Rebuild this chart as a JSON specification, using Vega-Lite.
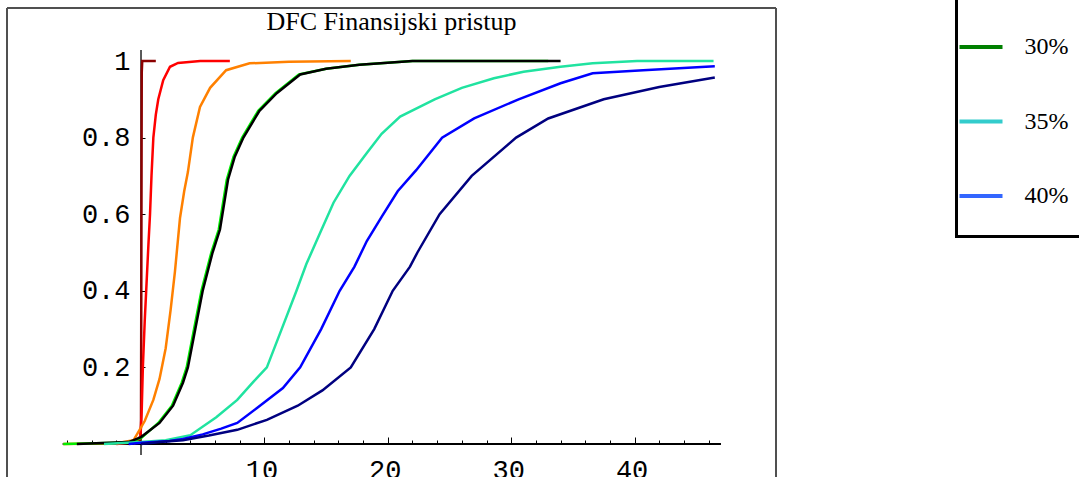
{
  "$schema": "https://vega.github.io/schema/vega-lite/v6.json",
  "width": 769,
  "height": 469,
  "autosize": {"type": "none"},
  "padding": {"left": 7, "top": 8, "right": 303, "bottom": 0},
  "background": "white",
  "config": {
    "view": {"stroke": null},
    "axis": {"grid": false, "domain": false, "tickColor": "black", "labelColor": "black", "labelFont": "Liberation Mono", "labelFontSize": 27, "labelFontWeight": "normal", "labelOverlap": false},
    "legend": {"strokeWidth": 3}
  },
  "title": {"text": "DFC Finansijski pristup", "font": "Liberation Serif", "fontSize": 26, "fontWeight": "normal", "color": "black", "anchor": "middle", "frame": "group", "offset": -71},
  "resolve": {"axis": {"x": "independent"}},
  "layer": [
    {
      "data": {"values": [{}]},
      "mark": {"type": "rule", "color": "#505050", "strokeWidth": 2},
      "encoding": {"x": {"datum": -10.86, "type": "quantitative", "axis": null}, "y": {"datum": -0.0862, "type": "quantitative"}, "y2": {"datum": 1.1384}}
    },
    {
      "data": {"values": [{}]},
      "mark": {"type": "rule", "color": "#505050", "strokeWidth": 2},
      "encoding": {"x": {"datum": 51.46, "type": "quantitative", "axis": null}, "y": {"datum": -0.0862, "type": "quantitative"}, "y2": {"datum": 1.1384}}
    },
    {
      "data": {"values": [{}]},
      "mark": {"type": "rule", "color": "#505050", "strokeWidth": 2},
      "encoding": {"x": {"datum": -10.86, "type": "quantitative", "axis": null}, "x2": {"datum": 51.46}, "y": {"datum": 1.1384, "type": "quantitative"}}
    },
    {
      "data": {"values": [{}]},
      "mark": {"type": "rule", "color": "black", "strokeWidth": 2},
      "encoding": {
        "x": {"datum": -6.35, "type": "quantitative",
          "axis": {"orient": "bottom", "offset": -33, "title": null, "labels": false, "values": [-6, -4, -2, 2, 4, 6, 8, 12, 14, 16, 18, 22, 24, 26, 28, 32, 34, 36, 38, 42, 44, 46], "tickSize": -4}},
        "x2": {"datum": 47},
        "y": {"datum": 0, "type": "quantitative"}}
    },
    {
      "data": {"values": [{}]},
      "mark": {"type": "rule", "color": "black", "strokeWidth": 1.3},
      "encoding": {"x": {"datum": 0, "type": "quantitative", "axis": null}, "y": {"datum": -0.029, "type": "quantitative"}, "y2": {"datum": 1.029}}
    },
    {
      "data": {"values": [
        {"s": "darkred", "x": -0.6, "y": 0}, {"s": "darkred", "x": -0.05, "y": 0.01}, {"s": "darkred", "x": 0.0, "y": 0.05}, {"s": "darkred", "x": 0.03, "y": 0.5}, {"s": "darkred", "x": 0.06, "y": 0.97}, {"s": "darkred", "x": 0.1, "y": 1.0}, {"s": "darkred", "x": 0.6, "y": 1.0}, {"s": "darkred", "x": 1.2, "y": 1.0},
        {"s": "red", "x": -2.0, "y": 0}, {"s": "red", "x": -0.4, "y": 0.005}, {"s": "red", "x": -0.05, "y": 0.02}, {"s": "red", "x": 0.05, "y": 0.08}, {"s": "red", "x": 0.15, "y": 0.2}, {"s": "red", "x": 0.3, "y": 0.32}, {"s": "red", "x": 0.45, "y": 0.42}, {"s": "red", "x": 0.6, "y": 0.52}, {"s": "red", "x": 0.73, "y": 0.6}, {"s": "red", "x": 0.85, "y": 0.7}, {"s": "red", "x": 1.0, "y": 0.8}, {"s": "red", "x": 1.2, "y": 0.86}, {"s": "red", "x": 1.4, "y": 0.9}, {"s": "red", "x": 1.8, "y": 0.95}, {"s": "red", "x": 2.35, "y": 0.985}, {"s": "red", "x": 3.0, "y": 0.995}, {"s": "red", "x": 4.8, "y": 1.0}, {"s": "red", "x": 7.2, "y": 1.0},
        {"s": "orange", "x": -6.3, "y": 0}, {"s": "orange", "x": -2.0, "y": 0.002}, {"s": "orange", "x": -0.6, "y": 0.01}, {"s": "orange", "x": 0.3, "y": 0.06}, {"s": "orange", "x": 1.0, "y": 0.115}, {"s": "orange", "x": 1.5, "y": 0.17}, {"s": "orange", "x": 2.0, "y": 0.25}, {"s": "orange", "x": 2.4, "y": 0.35}, {"s": "orange", "x": 2.75, "y": 0.45}, {"s": "orange", "x": 3.16, "y": 0.59}, {"s": "orange", "x": 3.5, "y": 0.66}, {"s": "orange", "x": 3.8, "y": 0.71}, {"s": "orange", "x": 4.2, "y": 0.8}, {"s": "orange", "x": 4.78, "y": 0.88}, {"s": "orange", "x": 5.6, "y": 0.93}, {"s": "orange", "x": 6.9, "y": 0.976}, {"s": "orange", "x": 8.8, "y": 0.994}, {"s": "orange", "x": 12.0, "y": 0.998}, {"s": "orange", "x": 17.0, "y": 1.0},
        {"s": "green", "x": -6.3, "y": 0}, {"s": "green", "x": -1.0, "y": 0.004}, {"s": "green", "x": 0.0, "y": 0.015}, {"s": "green", "x": 1.4, "y": 0.055}, {"s": "green", "x": 2.5, "y": 0.1}, {"s": "green", "x": 3.3, "y": 0.16}, {"s": "green", "x": 3.7, "y": 0.2}, {"s": "green", "x": 4.3, "y": 0.3}, {"s": "green", "x": 4.9, "y": 0.4}, {"s": "green", "x": 5.7, "y": 0.5}, {"s": "green", "x": 6.3, "y": 0.56}, {"s": "green", "x": 6.95, "y": 0.69}, {"s": "green", "x": 7.5, "y": 0.75}, {"s": "green", "x": 8.2, "y": 0.8}, {"s": "green", "x": 9.5, "y": 0.87}, {"s": "green", "x": 10.9, "y": 0.916}, {"s": "green", "x": 12.8, "y": 0.965}, {"s": "green", "x": 15.0, "y": 0.98}, {"s": "green", "x": 17.7, "y": 0.99}, {"s": "green", "x": 22.0, "y": 1.0}, {"s": "green", "x": 33.0, "y": 1.0},
        {"s": "black", "x": -5.2, "y": 0}, {"s": "black", "x": -1.0, "y": 0.005}, {"s": "black", "x": 0.0, "y": 0.018}, {"s": "black", "x": 1.5, "y": 0.055}, {"s": "black", "x": 2.6, "y": 0.1}, {"s": "black", "x": 3.4, "y": 0.16}, {"s": "black", "x": 3.8, "y": 0.2}, {"s": "black", "x": 4.4, "y": 0.3}, {"s": "black", "x": 5.0, "y": 0.4}, {"s": "black", "x": 5.8, "y": 0.5}, {"s": "black", "x": 6.4, "y": 0.56}, {"s": "black", "x": 7.05, "y": 0.69}, {"s": "black", "x": 7.6, "y": 0.75}, {"s": "black", "x": 8.3, "y": 0.8}, {"s": "black", "x": 9.6, "y": 0.87}, {"s": "black", "x": 11.0, "y": 0.916}, {"s": "black", "x": 12.9, "y": 0.965}, {"s": "black", "x": 15.0, "y": 0.98}, {"s": "black", "x": 17.7, "y": 0.99}, {"s": "black", "x": 22.0, "y": 1.0}, {"s": "black", "x": 34.0, "y": 1.0},
        {"s": "aquamarine", "x": -3.0, "y": 0}, {"s": "aquamarine", "x": 0.0, "y": 0.005}, {"s": "aquamarine", "x": 2.0, "y": 0.01}, {"s": "aquamarine", "x": 4.0, "y": 0.023}, {"s": "aquamarine", "x": 6.1, "y": 0.07}, {"s": "aquamarine", "x": 7.8, "y": 0.115}, {"s": "aquamarine", "x": 9.1, "y": 0.162}, {"s": "aquamarine", "x": 10.2, "y": 0.2}, {"s": "aquamarine", "x": 11.4, "y": 0.3}, {"s": "aquamarine", "x": 12.6, "y": 0.4}, {"s": "aquamarine", "x": 13.4, "y": 0.47}, {"s": "aquamarine", "x": 14.5, "y": 0.55}, {"s": "aquamarine", "x": 15.6, "y": 0.63}, {"s": "aquamarine", "x": 16.9, "y": 0.7}, {"s": "aquamarine", "x": 18.3, "y": 0.76}, {"s": "aquamarine", "x": 19.5, "y": 0.81}, {"s": "aquamarine", "x": 21.0, "y": 0.855}, {"s": "aquamarine", "x": 23.8, "y": 0.9}, {"s": "aquamarine", "x": 26.0, "y": 0.93}, {"s": "aquamarine", "x": 28.6, "y": 0.955}, {"s": "aquamarine", "x": 31.0, "y": 0.972}, {"s": "aquamarine", "x": 34.0, "y": 0.985}, {"s": "aquamarine", "x": 36.6, "y": 0.994}, {"s": "aquamarine", "x": 40.2, "y": 1.0}, {"s": "aquamarine", "x": 46.4, "y": 1.0},
        {"s": "blue", "x": -1.0, "y": 0}, {"s": "blue", "x": 0.0, "y": 0.003}, {"s": "blue", "x": 2.3, "y": 0.008}, {"s": "blue", "x": 3.4, "y": 0.013}, {"s": "blue", "x": 5.0, "y": 0.025}, {"s": "blue", "x": 6.5, "y": 0.04}, {"s": "blue", "x": 7.8, "y": 0.055}, {"s": "blue", "x": 9.4, "y": 0.094}, {"s": "blue", "x": 11.5, "y": 0.146}, {"s": "blue", "x": 12.9, "y": 0.2}, {"s": "blue", "x": 14.6, "y": 0.3}, {"s": "blue", "x": 16.1, "y": 0.4}, {"s": "blue", "x": 17.3, "y": 0.463}, {"s": "blue", "x": 18.3, "y": 0.53}, {"s": "blue", "x": 19.5, "y": 0.593}, {"s": "blue", "x": 20.8, "y": 0.66}, {"s": "blue", "x": 22.3, "y": 0.715}, {"s": "blue", "x": 24.4, "y": 0.8}, {"s": "blue", "x": 27.0, "y": 0.85}, {"s": "blue", "x": 30.6, "y": 0.9}, {"s": "blue", "x": 34.0, "y": 0.942}, {"s": "blue", "x": 36.6, "y": 0.968}, {"s": "blue", "x": 40.7, "y": 0.976}, {"s": "blue", "x": 46.5, "y": 0.986},
        {"s": "navy", "x": 0.0, "y": 0}, {"s": "navy", "x": 1.5, "y": 0.005}, {"s": "navy", "x": 3.4, "y": 0.01}, {"s": "navy", "x": 5.5, "y": 0.022}, {"s": "navy", "x": 7.8, "y": 0.037}, {"s": "navy", "x": 10.2, "y": 0.063}, {"s": "navy", "x": 12.7, "y": 0.1}, {"s": "navy", "x": 14.7, "y": 0.14}, {"s": "navy", "x": 17.0, "y": 0.2}, {"s": "navy", "x": 18.9, "y": 0.3}, {"s": "navy", "x": 20.4, "y": 0.4}, {"s": "navy", "x": 21.8, "y": 0.463}, {"s": "navy", "x": 22.4, "y": 0.5}, {"s": "navy", "x": 24.2, "y": 0.6}, {"s": "navy", "x": 26.8, "y": 0.7}, {"s": "navy", "x": 30.4, "y": 0.8}, {"s": "navy", "x": 33.0, "y": 0.85}, {"s": "navy", "x": 37.5, "y": 0.9}, {"s": "navy", "x": 42.0, "y": 0.932}, {"s": "navy", "x": 46.5, "y": 0.957}
      ]},
      "mark": {"type": "line", "strokeWidth": 2.5, "clip": true},
      "encoding": {
        "x": {"field": "x", "type": "quantitative", "scale": {"domain": [-10.86, 51.46], "nice": false, "zero": false},
          "axis": {"orient": "bottom", "offset": -33, "title": null, "values": [10, 20, 30, 40], "tickSize": -7, "labelPadding": 20, "labelOffset": -3, "labelOverlap": false, "labelFlush": false}},
        "y": {"field": "y", "type": "quantitative", "scale": {"domain": [-0.0862, 1.1384], "nice": false, "zero": false},
          "axis": {"orient": "left", "offset": -134, "title": null, "values": [0.2, 0.4, 0.6, 0.8, 1], "format": "~g", "tickSize": -4, "labelPadding": 15, "labelOverlap": false}},
        "stroke": {"field": "s", "type": "nominal", "legend": null,
          "scale": {"domain": ["darkred", "red", "orange", "green", "black", "aquamarine", "blue", "navy"], "range": ["#8B0000", "#FF0000", "#FF8000", "#00EE00", "#000000", "#20E3A0", "#0000FF", "#000080"]}}
      }
    },
    {
      "data": {"values": [{"pct": "30%"}, {"pct": "35%"}, {"pct": "40%"}]},
      "mark": {"type": "point", "opacity": 0},
      "encoding": {
        "color": {"field": "pct", "type": "nominal",
          "scale": {"domain": ["30%", "35%", "40%"], "range": ["#008000", "#33CCCC", "#3366FF"]},
          "legend": {"orient": "none", "legendX": 949.5, "legendY": -42.5, "title": " ", "titleFontSize": 20, "titlePadding": 10,
            "symbolType": "stroke", "symbolSize": 1849, "symbolStrokeWidth": 4, "symbolOpacity": 1, "symbolOffset": -27,
            "labelFont": "Liberation Serif", "labelFontSize": 24, "labelColor": "black", "labelOffset": 20,
            "rowPadding": 38.5, "padding": 28, "strokeColor": "black"}}
      }
    }
  ]
}
